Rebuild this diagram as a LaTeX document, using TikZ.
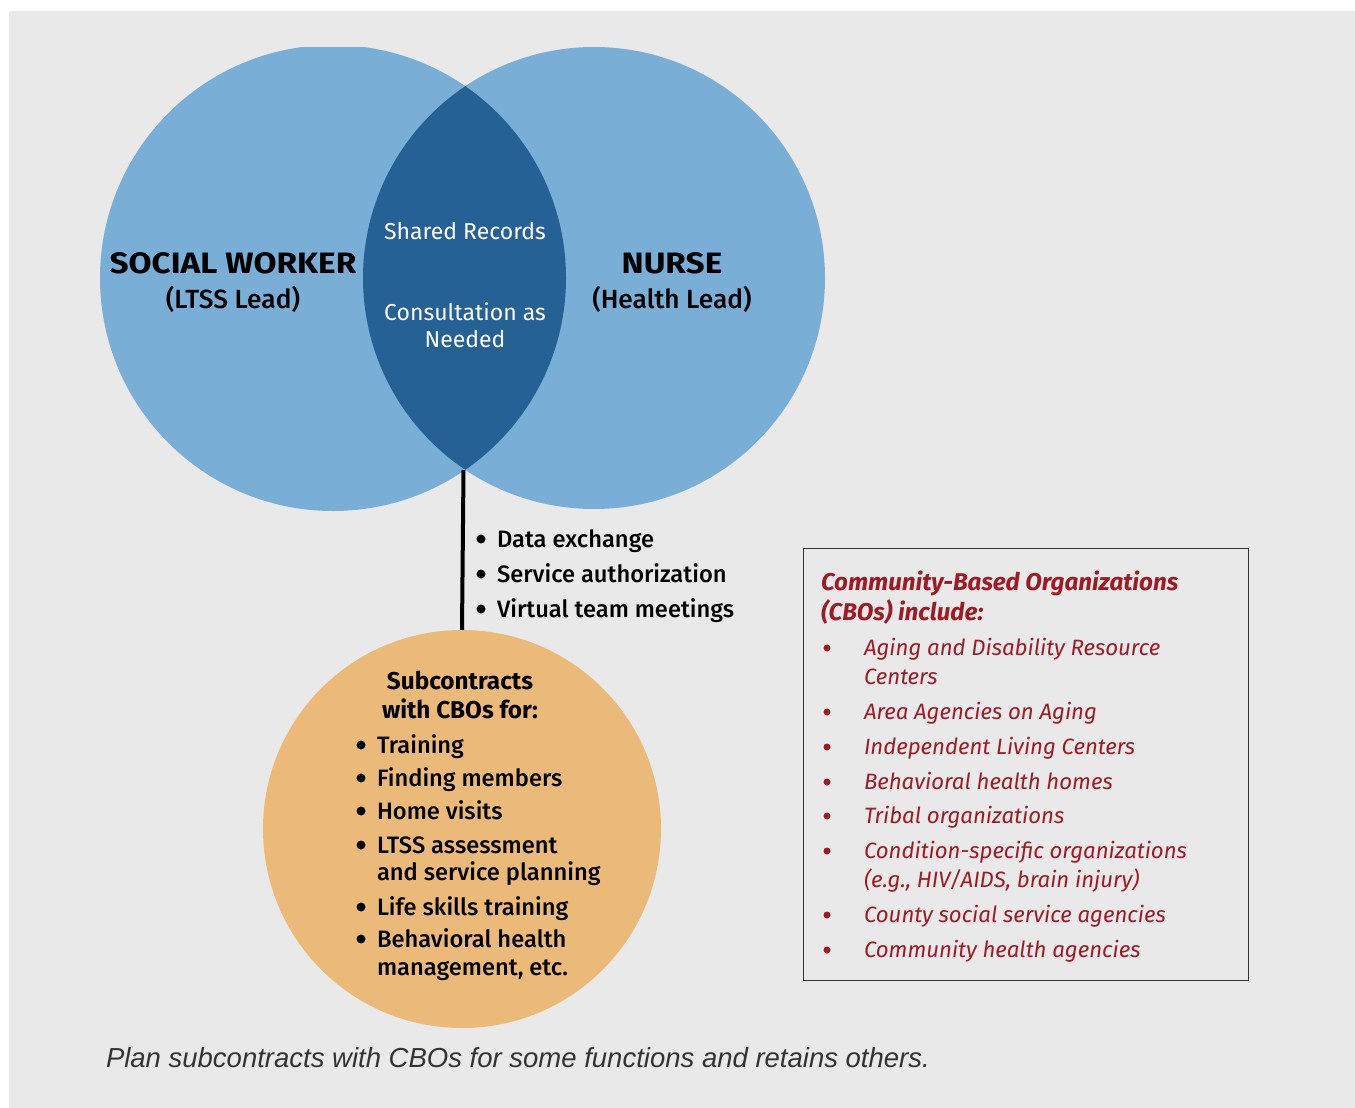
\documentclass[tikz,border=0pt]{standalone}
\usepackage{fontspec}
\setmainfont{Fira Sans}
\newfontfamily\medfont{Fira Sans Medium}
\newfontfamily\headfont{Fira Sans}[FakeStretch=1.13]
\newfontfamily\capfont{Liberation Sans}
\definecolor{bg}{HTML}{E9E9E9}
\definecolor{lblue}{HTML}{79AED6}
\definecolor{dblue}{HTML}{266196}
\definecolor{orng}{HTML}{ECBA78}
\definecolor{cbored}{HTML}{9E1B25}
\definecolor{capgray}{HTML}{333333}
\tikzset{
  txt/.style={inner sep=0pt, outer sep=0pt},
  head/.style={txt, anchor=base, font=\headfont\bfseries\fontsize{29.5}{34}\selectfont},
  sub/.style={txt, anchor=base, font=\medfont\fontsize{26.3}{30}\selectfont},
  lens/.style={txt, anchor=base, text=white, font=\fontsize{23}{28}\selectfont},
  itm/.style={txt, anchor=base west, font=\medfont\fontsize{23.7}{28}\selectfont},
  dot/.style={circle, fill=black, inner sep=0pt, minimum size=9pt},
  rdot/.style={circle, fill=cbored, inner sep=0pt, minimum size=7pt},
  ritm/.style={txt, anchor=base west, text=cbored, font=\itshape\fontsize{22.2}{28}\selectfont},
  rhead/.style={txt, anchor=base west, text=cbored, font=\bfseries\itshape\fontsize{24.2}{28}\selectfont},
  shead/.style={txt, anchor=base, font=\bfseries\fontsize{24.3}{28}\selectfont},
}
\begin{document}
\begin{tikzpicture}[x=1pt, y=-1pt]
\useasboundingbox (0,0) rectangle (1355,1108);
\fill[white] (0,0) rectangle (1355,1108);
\fill[bg] (9,11) rectangle (1355,1108);
% Venn
\begin{scope}
  \clip (0,48) rectangle (1355,1108);
  \fill[lblue] (333,278) circle (233pt);
  \fill[lblue] (594,278) circle (231pt);
  \begin{scope}
    \clip (333,278) circle (233pt);
    \fill[dblue] (594,278) circle (231pt);
  \end{scope}
\end{scope}
\coordinate (lensbot) at (463.5,470);
% CBO circle
\node[circle, fill=orng, minimum size=398pt, inner sep=0pt] (cbo) at (462,829) {};
\draw[line width=4pt] (lensbot) -- (cbo.north);
% Venn labels
\node[head] (sw) at (233,273) {SOCIAL WORKER};
\node[sub] (swl) at (233,308) {(LTSS Lead)};
\node[head] (nu) at (672,273) {NURSE};
\node[sub] (nul) at (672,308) {(Health Lead)};
\node[lens] (sr) at (465,239) {Shared Records};
\node[lens] (ca) at (465,320) {Consultation as};
\node[lens] (nd) at (465,347) {Needed};
% link bullets
\foreach \t/\y [count=\i] in {Data exchange/547, Service authorization/582, Virtual team meetings/617}{
  \node[dot] (ld\i) at (481,\y-8) {};
  \node[itm] (lt\i) at (497,\y) {\t};
}
% CBO circle text
\node[shead] (s1) at (460,689) {Subcontracts};
\node[shead] (s2) at (460,718) {with CBOs for:};
\foreach \y [count=\i] in {753,786,819,853,915,947}{
  \node[dot] (cd\i) at (361,\y-8) {};
}
\node[itm] (c1) at (377,753) {Training};
\node[itm] (c2) at (377,786) {Finding members};
\node[itm] (c3) at (377,819) {Home visits};
\node[itm] (c4) at (377,853) {LTSS assessment};
\node[itm] (c4b) at (377,880) {and service planning};
\node[itm] (c5) at (377,915) {Life skills training};
\node[itm] (c6) at (377,947) {Behavioral health};
\node[itm] (c6b) at (377,975) {management, etc.};
% CBO box
\node[draw=capgray, line width=1.2pt, minimum width=445pt, minimum height=432pt, anchor=north west, inner sep=0pt] (cbobox) at (803,548) {};
\node[rhead] (h1) at (821,590) {Community-Based Organizations};
\node[rhead] (h2) at (821,620) {(CBOs) include:};
\foreach \y [count=\i] in {655,719,754,789,823,858,922,957}{
  \node[rdot] (rd\i) at (827,\y-7) {};
}
\node[ritm] (r1) at (864,655) {Aging and Disability Resource};
\node[ritm] (r1b) at (864,684) {Centers};
\node[ritm] (r2) at (864,719) {Area Agencies on Aging};
\node[ritm] (r3) at (864,754) {Independent Living Centers};
\node[ritm] (r4) at (864,789) {Behavioral health homes};
\node[ritm] (r5) at (864,823) {Tribal organizations};
\node[ritm] (r6) at (864,858) {Condition-specific organizations};
\node[ritm] (r6b) at (864,887) {(e.g., HIV/AIDS, brain injury)};
\node[ritm] (r7) at (864,922) {County social service agencies};
\node[ritm] (r8) at (864,957) {Community health agencies};
% caption
\node[txt, anchor=base west, text=capgray, font=\capfont\itshape\fontsize{27.5}{32}\selectfont] (cap) at (106,1067) {Plan subcontracts with CBOs for some functions and retains others.};
\end{tikzpicture}
\end{document}
